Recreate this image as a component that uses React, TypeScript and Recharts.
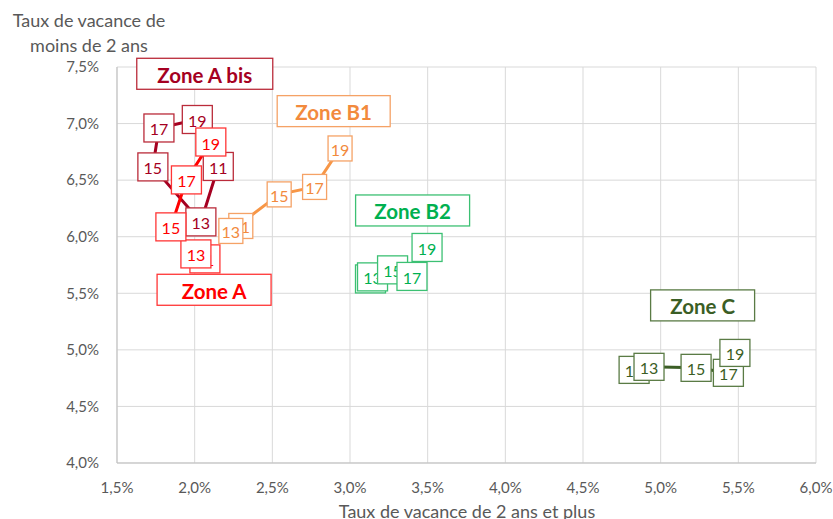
import React from 'react';
import {
  ScatterChart,
  Scatter,
  XAxis,
  YAxis,
  CartesianGrid,
  ReferenceDot,
} from 'recharts';

// years shown in each label box
const years = ['11', '13', '15', '17', '19'];

// x = taux de vacance de 2 ans et plus (%), y = moins de 2 ans (%)
const zoneABisX = [2.152, 2.04, 1.731, 1.77, 2.017];
const zoneABisY = [6.621, 6.131, 6.617, 6.961, 7.036];
const zoneAX = [2.066, 2.008, 1.847, 1.947, 2.104];
const zoneAY = [5.804, 5.848, 6.087, 6.502, 6.837];
const zoneB1X = [2.297, 2.233, 2.544, 2.772, 2.936];
const zoneB1Y = [6.095, 6.051, 6.374, 6.44, 6.78];
const zoneB2X = [3.132, 3.145, 3.274, 3.399, 3.496];
const zoneB2Y = [5.627, 5.645, 5.707, 5.649, 5.905];
const zoneCX = [4.829, 4.925, 5.228, 5.436, 5.478];
const zoneCY = [4.823, 4.85, 4.841, 4.797, 4.973];

const xTicks = [1.5, 2, 2.5, 3, 3.5, 4, 4.5, 5, 5.5, 6];
const yTicks = [4, 4.5, 5, 5.5, 6, 6.5, 7, 7.5];

// zone name tags, anchored in data units
const tagNames = ['Zone A bis', 'Zone B1', 'Zone B2', 'Zone A', 'Zone C'];
const tagX = [2.065, 2.895, 3.403, 2.125, 5.27];
const tagY = [7.44, 7.11, 6.232, 5.531, 5.393];

const FONT = 'Lato, "Open Sans", sans-serif';
const AXIS_GREY = '#595959';

const zoneStyle: Record<string, { line: string; text: string; border: string; w: number; h: number }> = {
  'Zone A bis': { line: '#A50021', text: '#A50021', border: '#BA2B3A', w: 30, h: 28 },
  'Zone A': { line: '#FF0000', text: '#FF0000', border: '#FF3535', w: 30, h: 28 },
  'Zone B1': { line: '#F79646', text: '#F28A3D', border: '#F5A266', w: 24, h: 25 },
  'Zone B2': { line: '#00B050', text: '#00B050', border: '#3CC073', w: 30, h: 28 },
  'Zone C': { line: '#3B5E25', text: '#3B5E25', border: '#5A7B45', w: 30, h: 27 },
};

const tagWidth: Record<string, number> = {
  'Zone A bis': 136,
  'Zone B1': 113,
  'Zone B2': 114,
  'Zone A': 114,
  'Zone C': 104,
};

const build = (xs: number[], ys: number[]) =>
  xs.map((x, i) => ({ x, y: ys[i], year: years[i] }));

const series = [
  { name: 'Zone A bis', data: build(zoneABisX, zoneABisY) },
  { name: 'Zone A', data: build(zoneAX, zoneAY) },
  { name: 'Zone B1', data: build(zoneB1X, zoneB1Y) },
  { name: 'Zone B2', data: build(zoneB2X, zoneB2Y) },
  { name: 'Zone C', data: build(zoneCX, zoneCY) },
];

const fmt = (v: number) => `${v.toFixed(1).replace('.', ',')}%`;

const YearBox = (zone: string) => (props: any) => {
  const { cx, cy, payload } = props;
  const s = zoneStyle[zone];
  if (cx == null || cy == null) return <g />;
  return (
    <g>
      <rect
        x={cx - s.w / 2}
        y={cy - s.h / 2}
        width={s.w}
        height={s.h}
        fill="#FFFFFF"
        stroke={s.border}
        strokeWidth={1.3}
      />
      <text
        x={cx}
        y={cy + 1}
        textAnchor="middle"
        dominantBaseline="central"
        fontFamily={FONT}
        fontSize={16}
        fill={s.text}
      >
        {payload.year}
      </text>
    </g>
  );
};

const TagBox = (name: string) => (props: any) => {
  const { cx, cy } = props;
  const s = zoneStyle[name];
  const w = tagWidth[name];
  const h = 31;
  return (
    <g>
      <rect x={cx - w / 2} y={cy - h / 2} width={w} height={h} fill="#FFFFFF" stroke={s.border} strokeWidth={1.3} />
      <text
        x={cx}
        y={cy + 1}
        textAnchor="middle"
        dominantBaseline="central"
        fontFamily={FONT}
        fontWeight={700}
        fontSize={20.5}
        fill={s.text}
      >
        {name}
      </text>
    </g>
  );
};

const App: React.FC = () => {
  return (
    <div style={{ position: 'absolute', left: 0, top: 0, width: 833, height: 519, background: '#FFFFFF', overflow: 'hidden' }}>
      <ScatterChart width={833} height={519} margin={{ top: 67, right: 17, left: 57, bottom: 26 }}>
        <CartesianGrid stroke="#D9D9D9" strokeWidth={1} />
        <XAxis
          type="number"
          dataKey="x"
          domain={[1.5, 6]}
          ticks={xTicks}
          tickFormatter={fmt}
          allowDataOverflow
          tickLine={false}
          axisLine={{ stroke: '#BFBFBF' }}
          tick={{ fill: AXIS_GREY, fontSize: 15, fontFamily: FONT }}
          tickMargin={13}
          height={30}
        />
        <YAxis
          type="number"
          dataKey="y"
          domain={[4, 7.5]}
          ticks={yTicks}
          tickFormatter={fmt}
          allowDataOverflow
          tickLine={false}
          axisLine={{ stroke: '#BFBFBF' }}
          tick={{ fill: AXIS_GREY, fontSize: 15, fontFamily: FONT }}
          tickMargin={12}
          width={60}
        />
        {series.map((s) => (
          <Scatter
            key={s.name}
            name={s.name}
            data={s.data}
            line={{ stroke: zoneStyle[s.name].line, strokeWidth: 3 }}
            shape={YearBox(s.name)}
            isAnimationActive={false}
          />
        ))}
        {tagNames.map((n, i) => (
          <ReferenceDot key={n} x={tagX[i]} y={tagY[i]} r={0} shape={TagBox(n)} />
        ))}
      </ScatterChart>
      <div
        style={{
          position: 'absolute',
          left: 0,
          top: 8,
          width: 178,
          textAlign: 'center',
          fontFamily: FONT,
          fontSize: 18,
          lineHeight: '25px',
          color: AXIS_GREY,
        }}
      >
        Taux de vacance de
        <br />
        moins de 2 ans
      </div>
      <div
        style={{
          position: 'absolute',
          left: 117,
          width: 700,
          top: 500,
          textAlign: 'center',
          fontFamily: FONT,
          fontSize: 18,
          color: AXIS_GREY,
        }}
      >
        Taux de vacance de 2 ans et plus
      </div>
    </div>
  );
};

export default App;
